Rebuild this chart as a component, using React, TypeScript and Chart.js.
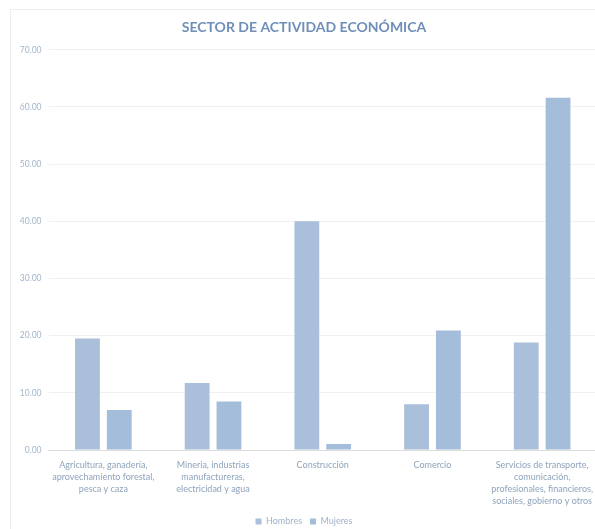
import React, { useEffect, useRef } from "react";
import { Chart, registerables } from "chart.js";

Chart.register(...registerables);

const categories: string[][] = [
  ["Agricultura, ganadería,", "aprovechamiento forestal,", "pesca y caza"],
  ["Mineria, industrias", "manufactureras,", "electricidad y agua"],
  ["Construcción"],
  ["Comercio"],
  ["Servicios de transporte,", "comunicación,", "profesionales, financieros,", "sociales, gobierno y otros"],
];
const hombres: number[] = [19.5, 11.7, 40.0, 8.0, 18.8];
const mujeres: number[] = [7.0, 8.5, 1.05, 20.9, 61.6];
const seriesNames: string[] = ["Hombres", "Mujeres"];
const yMax = 70;
const yStep = 10;

const FONT = "Lato, 'Open Sans', sans-serif";

export default function App() {
  const ref = useRef<HTMLCanvasElement | null>(null);

  useEffect(() => {
    if (!ref.current) return;
    const chart = new Chart(ref.current, {
      type: "bar",
      data: {
        labels: categories,
        datasets: [
          {
            label: seriesNames[0],
            data: hombres,
            backgroundColor: "#a9bfda",
            categoryPercentage: 0.58,
            barPercentage: 0.78,
          },
          {
            label: seriesNames[1],
            data: mujeres,
            backgroundColor: "#a3bdda",
            categoryPercentage: 0.58,
            barPercentage: 0.78,
          },
        ],
      },
      options: {
        animation: false,
        responsive: false,
        maintainAspectRatio: false,
        layout: { padding: { top: 7, right: 12, bottom: 2, left: 0 } },
        plugins: {
          title: {
            display: true,
            text: "SECTOR DE ACTIVIDAD ECONÓMICA",
            color: "#6f8fb8",
            font: { family: FONT, size: 14, weight: "bold" },
            padding: { top: 2, bottom: 14 },
          },
          legend: {
            position: "bottom",
            labels: {
              boxWidth: 6,
              boxHeight: 6,
              color: "#9fb2c8",
              font: { family: FONT, size: 9 },
              padding: 8,
            },
          },
          tooltip: { enabled: false },
        },
        scales: {
          x: {
            grid: { display: false },
            border: { display: true, color: "#dcdcdc" },
            ticks: {
              color: "#8fa4bc",
              font: { family: FONT, size: 9, lineHeight: 1.33 },
              maxRotation: 0,
              autoSkip: false,
              padding: 1,
            },
            afterFit: (s: any) => {
              s.height = 59;
            },
          },
          y: {
            min: 0,
            max: yMax,
            grid: { color: "#f0f0f0", drawTicks: false },
            border: { display: false },
            ticks: {
              stepSize: yStep,
              color: "#a3b6cc",
              font: { family: FONT, size: 8.5 },
              padding: 7,
              callback: (v: any) => Number(v).toFixed(2),
            },
            afterFit: (s: any) => {
              s.width = 37.5;
            },
          },
        },
      },
    });
    return () => chart.destroy();
  }, []);

  return (
    <div
      style={{
        position: "fixed",
        left: 0,
        top: 0,
        width: 595,
        height: 529,
        overflow: "hidden",
        background: "#fff",
      }}
    >
      <div
        style={{
          position: "absolute",
          left: 10,
          top: 9,
          width: 600,
          height: 530,
          border: "1px solid #eeeeee",
          boxSizing: "border-box",
          background: "#fff",
        }}
      >
        <canvas ref={ref} width={598} height={528} style={{ display: "block" }} />
      </div>
    </div>
  );
}
